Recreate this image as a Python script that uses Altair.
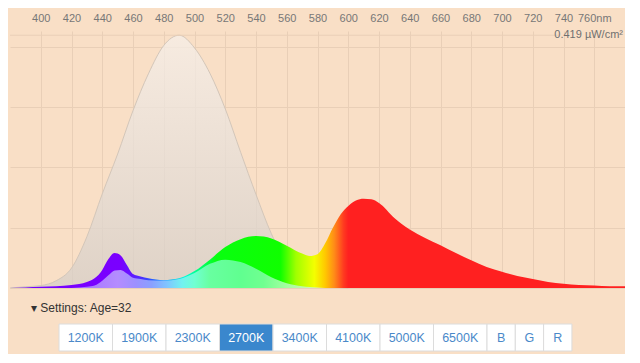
import altair as alt
import pandas as pd

# ---------------- data ----------------
wl_gray = [380, 390, 400, 410, 420, 430, 440, 450, 460, 470, 480, 490, 500,
           510, 520, 530, 540, 550, 560, 570, 580, 590, 600]
gray = [0.000, 0.002, 0.004, 0.012, 0.033, 0.085, 0.156, 0.222, 0.294, 0.355,
        0.402, 0.419, 0.398, 0.356, 0.297, 0.225, 0.155, 0.090, 0.042, 0.017,
        0.006, 0.002, 0.000]

wl_spec = [380, 390, 400, 410, 420, 430, 435, 440, 444, 448, 452, 456, 460, 465,
           470, 480, 490, 500, 510, 520, 530, 540, 550, 560, 570, 575, 580, 585,
           590, 595, 600, 605, 610, 615, 620, 630, 640, 650, 660, 670, 680, 690,
           700, 710, 720, 730, 740, 750, 760, 770, 780]
sat = [0.000, 0.001, 0.002, 0.003, 0.005, 0.010, 0.016, 0.030, 0.048, 0.058,
       0.054, 0.038, 0.023, 0.019, 0.016, 0.013, 0.016, 0.028, 0.047, 0.068,
       0.081, 0.086, 0.082, 0.070, 0.057, 0.053, 0.056, 0.074, 0.100, 0.122,
       0.136, 0.145, 0.148, 0.147, 0.141, 0.116, 0.097, 0.083, 0.071, 0.058,
       0.046, 0.035, 0.027, 0.020, 0.015, 0.010, 0.007, 0.005, 0.004, 0.003,
       0.003]
pastel = [0.000, 0.000, 0.000, 0.000, 0.000, 0.002, 0.004, 0.012, 0.021, 0.029,
          0.030, 0.024, 0.017, 0.015, 0.013, 0.0125, 0.015, 0.025, 0.040, 0.047,
          0.043, 0.032, 0.018, 0.008, 0.003, 0.0015, 0.0008, 0.000, 0.000, 0.000,
          0.000, 0.000, 0.000, 0.000, 0.000, 0.000, 0.000, 0.000, 0.000, 0.000,
          0.000, 0.000, 0.000, 0.000, 0.000, 0.000, 0.000, 0.000, 0.000, 0.000,
          0.000]

x_ticks = [400, 420, 440, 460, 480, 500, 520, 540, 560, 580, 600, 620, 640,
           660, 680, 700, 720, 740, 760]
y_grid = [0, 0.1, 0.2, 0.3, 0.4]
peak_value = 0.419
peak_label = "0.419 µW/cm²"

buttons = ["1200K", "1900K", "2300K", "2700K", "3400K", "4100K", "5000K",
           "6500K", "B", "G", "R"]
selected = "2700K"
settings_text = "▾ Settings: Age=32"

# ---------------- styling ----------------
BG = "#f9dfc6"
GRID = "#e9cfb7"
FONT = "Liberation Sans"
W = 615
H = 257

gray_df = pd.DataFrame({"nm": wl_gray, "v": gray})
spec_df = pd.DataFrame({"nm": wl_spec, "sat": sat, "pastel": pastel})


def off(nm):
    return (nm - 380) / 400.0


sat_stops = [(380, "#7000ff"), (420, "#7800ff"), (452, "#7a00ff"), (466, "#4a30ff"),
             (480, "#0090ff"), (494, "#00ffd8"), (504, "#00ff70"), (514, "#08ff10"),
             (556, "#10ff00"), (566, "#a0ff00"), (578, "#f4ff00"), (585, "#ffc800"),
             (591, "#ff8a18"), (597, "#ff3a20"), (600, "#ff2020"), (780, "#ff2020")]
pas_stops = [(380, "#a070ff"), (430, "#a878ff"), (450, "#b48cff"), (462, "#9c90ff"),
             (472, "#8aa0ff"), (482, "#80c4ff"), (492, "#72f2f0"), (500, "#70ffd2"),
             (510, "#68ffa0"), (530, "#60ff90"), (545, "#70ff90"), (560, "#a4ffa0"),
             (580, "#d8f4b0"), (780, "#d8f4b0")]

sat_grad = alt.Gradient(gradient="linear", x1=0, y1=0, x2=1, y2=0,
                        stops=[alt.GradientStop(offset=off(n), color=c) for n, c in sat_stops])
pas_grad = alt.Gradient(gradient="linear", x1=0, y1=0, x2=1, y2=0,
                        stops=[alt.GradientStop(offset=off(n), color=c) for n, c in pas_stops])
gray_grad = alt.Gradient(gradient="linear", x1=0, y1=0, x2=0, y2=1,
                         stops=[alt.GradientStop(offset=0, color="#f6efe9"),
                                alt.GradientStop(offset=1, color="#d6cec7")])

xs = alt.Scale(domain=[380, 780], nice=False, zero=False)
ys = alt.Scale(domain=[0, 0.426], nice=False)

x_axis = alt.Axis(orient="top", values=x_ticks,
                  labelExpr="datum.value == 760 ? '760nm' : datum.label",
                  grid=True, gridColor=GRID, gridWidth=1, ticks=False, domain=False,
                  labelPadding=8, labelFontSize=11, labelColor="#777777",
                  labelFont=FONT, title=None)
y_axis = alt.Axis(values=y_grid, grid=True, gridColor=GRID, gridWidth=1,
                  labels=False, ticks=False, domain=False, title=None)

gray_area = alt.Chart(gray_df).mark_area(
    fill=gray_grad, fillOpacity=0.75, interpolate="monotone"
).encode(x=alt.X("nm:Q", scale=xs, axis=x_axis),
         y=alt.Y("v:Q", scale=ys, axis=y_axis))

gray_line = alt.Chart(gray_df).mark_line(
    color="#d3c6b9", strokeWidth=1, interpolate="monotone"
).encode(x=alt.X("nm:Q", scale=xs, axis=x_axis),
         y=alt.Y("v:Q", scale=ys, axis=y_axis))

sat_area = alt.Chart(spec_df).mark_area(
    fill=sat_grad, interpolate="monotone"
).encode(x=alt.X("nm:Q", scale=xs, axis=x_axis),
         y=alt.Y("sat:Q", scale=ys, axis=y_axis))

pas_area = alt.Chart(spec_df).mark_area(
    fill=pas_grad, interpolate="monotone"
).encode(x=alt.X("nm:Q", scale=xs, axis=x_axis),
         y=alt.Y("pastel:Q", scale=ys, axis=y_axis))

peak_df = pd.DataFrame({"y": [peak_value], "label": [peak_label],
                        "x0": [380], "x1": [737], "xr": [780]})

peak_rule = alt.Chart(peak_df).mark_rule(color=GRID, strokeWidth=1).encode(
    x=alt.X("x0:Q", scale=xs, axis=x_axis), x2="x1:Q",
    y=alt.Y("y:Q", scale=ys, axis=y_axis))

peak_text = alt.Chart(peak_df).mark_text(
    align="right", baseline="middle", dx=-2, fontSize=11, color="#6f6f6f", font=FONT
).encode(x=alt.X("xr:Q", scale=xs, axis=x_axis),
         y=alt.Y("y:Q", scale=ys, axis=y_axis), text="label:N")

top = alt.layer(gray_area, gray_line, sat_area, pas_area, peak_rule, peak_text).properties(
    width=W, height=H)

# ---------------- button bar ----------------
pad, per_char, start = 22.0, 6.3, 49.0
rows = []
pos = start
for b in buttons:
    w = pad + per_char * len(b)
    rows.append({"label": b, "x0": pos, "x1": pos + w, "xc": pos + w / 2,
                 "sel": b == selected})
    pos += w
btn_df = pd.DataFrame(rows)
bs = alt.Scale(domain=[0, W], nice=False, zero=False)

btn_rect = alt.Chart(btn_df).mark_rect(stroke="#dcdcdc", strokeWidth=1).encode(
    x=alt.X("x0:Q", scale=bs, axis=None), x2="x1:Q",
    y=alt.value(34), y2=alt.value(61),
    fill=alt.condition(alt.datum.sel, alt.value("#3a87cd"), alt.value("#ffffff")))

btn_text = alt.Chart(btn_df).mark_text(
    align="center", baseline="middle", fontSize=12.5, font=FONT
).encode(x=alt.X("xc:Q", scale=bs, axis=None), y=alt.value(48), text="label:N",
         color=alt.condition(alt.datum.sel, alt.value("#ffffff"), alt.value("#4a89c9")))

set_df = pd.DataFrame({"t": [settings_text]})
set_text = alt.Chart(set_df).mark_text(
    align="left", baseline="middle", fontSize=12, color="#333333", font=FONT
).encode(x=alt.value(21), y=alt.value(18), text="t:N")

bottom = alt.layer(btn_rect, btn_text, set_text).properties(width=W, height=64)

chart = alt.vconcat(top, bottom, spacing=0).properties(
    padding={"top": 4, "left": 0, "right": 0, "bottom": 0}
).configure(background=BG, font=FONT).configure_view(stroke=None)

chart.save("out.html", embed_options={"renderer": "svg", "actions": False})
